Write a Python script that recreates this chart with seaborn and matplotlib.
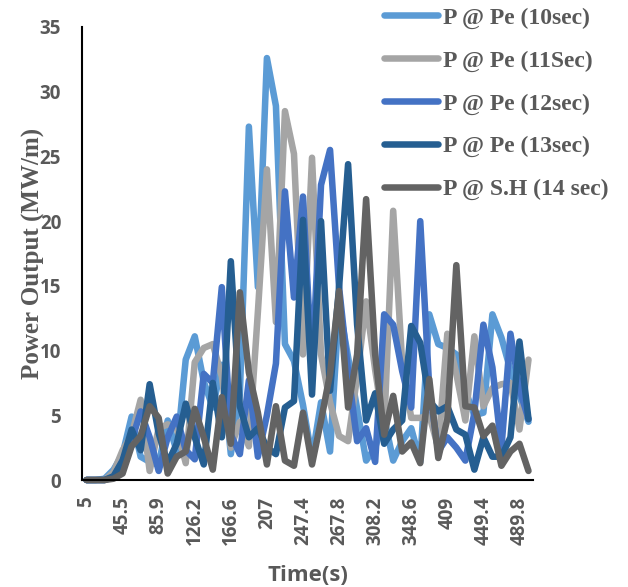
import pandas as pd
import seaborn as sns
import matplotlib.pyplot as plt

# series (MW/m), 50 time steps
series_names = ["P @ Pe (10sec)", "P @ Pe (11Sec)", "P @ Pe (12sec)",
                "P @ Pe (13sec)", "P @ S.H (14 sec)"]
colors = ["#5B9BD5", "#A5A5A5", "#4472C4", "#255E91", "#636363"]

# time labels shown every 4th category
tick_labels = ["5", "45.5", "85.9", "126.2", "166.6", "207", "247.4",
               "267.8", "308.2", "348.6", "409", "449.4", "489.8"]

p_10 = [0, 0, 0.1, 0.8, 2.0, 4.9, 1.8, 1.4, 1.2, 4.6,
        2.2, 9.3, 11.1, 7.6, 5.6, 8.9, 2.0, 6.6, 27.3, 14.9,
        32.6, 28.9, 10.5, 9.2, 5.8, 1.7, 6.0, 2.2, 13.5, 9.5,
        5.5, 1.5, 2.5, 4.8, 1.5, 3.0, 4.0, 1.4, 12.8, 10.5,
        10.2, 9.7, 6.9, 5.0, 5.2, 12.8, 11.0, 8.5, 6.5, 4.5]
p_11 = [0, 0, 0, 0.6, 2.3, 3.5, 6.2, 0.7, 4.0, 4.3,
        4.0, 1.3, 9.1, 10.2, 10.5, 8.0, 2.5, 4.5, 2.6, 13.0,
        24.0, 12.2, 28.5, 25.2, 9.7, 24.9, 9.7, 6.0, 3.4, 3.0,
        8.0, 13.8, 8.5, 4.0, 20.8, 9.0, 4.8, 4.8, 5.0, 2.5,
        11.3, 8.2, 4.6, 11.1, 5.7, 7.1, 7.4, 7.5, 3.9, 9.3]
p_12 = [0, 0, 0, 0.2, 1.5, 3.0, 5.3, 3.3, 0.7, 3.3,
        4.9, 2.3, 1.6, 8.2, 7.5, 14.9, 3.5, 2.0, 7.7, 1.8,
        5.0, 9.0, 22.3, 14.1, 21.9, 8.5, 22.8, 25.5, 14.9, 8.4,
        3.0, 4.0, 1.4, 12.8, 12.0, 8.4, 5.6, 20.0, 7.1, 2.2,
        3.3, 2.5, 1.5, 5.2, 12.0, 8.7, 2.5, 11.3, 7.0, 4.7]
p_13 = [0, 0, 0, 0.3, 1.5, 3.9, 2.3, 7.4, 3.6, 1.3,
        2.8, 5.9, 3.3, 1.2, 7.5, 3.3, 16.9, 5.7, 3.3, 4.0,
        2.5, 2.0, 5.6, 6.1, 20.1, 6.6, 20.0, 6.9, 14.9, 24.4,
        12.0, 4.6, 6.7, 2.8, 3.9, 4.6, 11.9, 10.6, 6.1, 5.3,
        5.7, 3.9, 3.5, 0.8, 3.3, 1.8, 1.8, 3.3, 10.7, 4.7]
p_14 = [0, 0, 0, 0.1, 0.5, 2.6, 3.4, 5.7, 4.8, 0.5,
        1.8, 2.2, 5.5, 3.3, 0.8, 6.4, 2.8, 14.5, 8.3, 5.2,
        1.2, 5.7, 1.5, 1.1, 5.2, 1.2, 4.6, 8.2, 14.6, 5.6,
        9.7, 21.7, 9.7, 3.5, 6.5, 2.2, 2.9, 1.3, 7.8, 1.7,
        4.7, 16.6, 5.7, 5.6, 3.4, 4.2, 1.1, 2.2, 2.8, 0.7]

all_series = [p_10, p_11, p_12, p_13, p_14]

frames = []
for name, vals in zip(series_names, all_series):
    frames.append(pd.DataFrame({"step": range(len(vals)), "power": vals, "series": name}))
df = pd.concat(frames, ignore_index=True)

sns.set_style("white")
plt.rcParams['font.family'] = ['Open Sans', 'DejaVu Sans']
plt.rcParams['font.weight'] = 'bold'

fig = plt.figure(figsize=(6.28, 5.87), dpi=100)
ax = fig.add_axes([82 / 628, 1 - 480 / 587, 451 / 628, 453 / 587])

sns.lineplot(data=df, x="step", y="power", hue="series", hue_order=series_names,
             palette=colors, linewidth=4.7, estimator=None, legend=False, ax=ax)
for ln in ax.lines:
    ln.set_solid_joinstyle("round")
    ln.set_solid_capstyle("round")
    ln.set_clip_on(False)

n = len(p_10)
ax.set_xlim(-0.5, n - 0.5)
ax.set_ylim(0, 35)
ax.set_yticks(range(0, 36, 5))
ax.set_xticks(range(0, n, 4))
ax.set_xticklabels(tick_labels, rotation=90)
ax.set_xticks(range(n), minor=True)

for s in ["top", "right"]:
    ax.spines[s].set_visible(False)
for s in ["left", "bottom"]:
    ax.spines[s].set_color("black")
    ax.spines[s].set_linewidth(1.5)

ax.tick_params(axis="y", which="both", direction="out", length=5, width=1.5,
               color="black", pad=10, labelsize=13.5, labelcolor="#595959")
ax.tick_params(axis="x", which="both", direction="out", length=5, width=1.5,
               color="black", pad=7, labelsize=13.5, labelcolor="#595959")
for lbl in ax.get_xticklabels() + ax.get_yticklabels():
    lbl.set_fontweight("bold")

ax.set_xlabel("Time(s)", fontsize=16, fontweight="bold", color="#595959")
ax.xaxis.set_label_coords(0.5, -0.188)
ax.set_ylabel("Power Output (MW/m)", fontsize=18, fontweight="bold", color="#595959",
              family=["Liberation Serif", "DejaVu Serif"])
ax.yaxis.set_label_coords(-0.082, 0.5)

handles = ax.lines[:len(series_names)]
fig.legend(handles, series_names, loc="upper left", bbox_to_anchor=(384 / 628, 1 - 7 / 587),
           frameon=False, borderpad=0, borderaxespad=0, handlelength=2.3,
           handletextpad=0.2, labelspacing=0.9,
           prop={"family": ["Liberation Serif", "DejaVu Serif"], "weight": "bold", "size": 17},
           labelcolor="#595959")

fig.savefig("out.png", dpi=100)
